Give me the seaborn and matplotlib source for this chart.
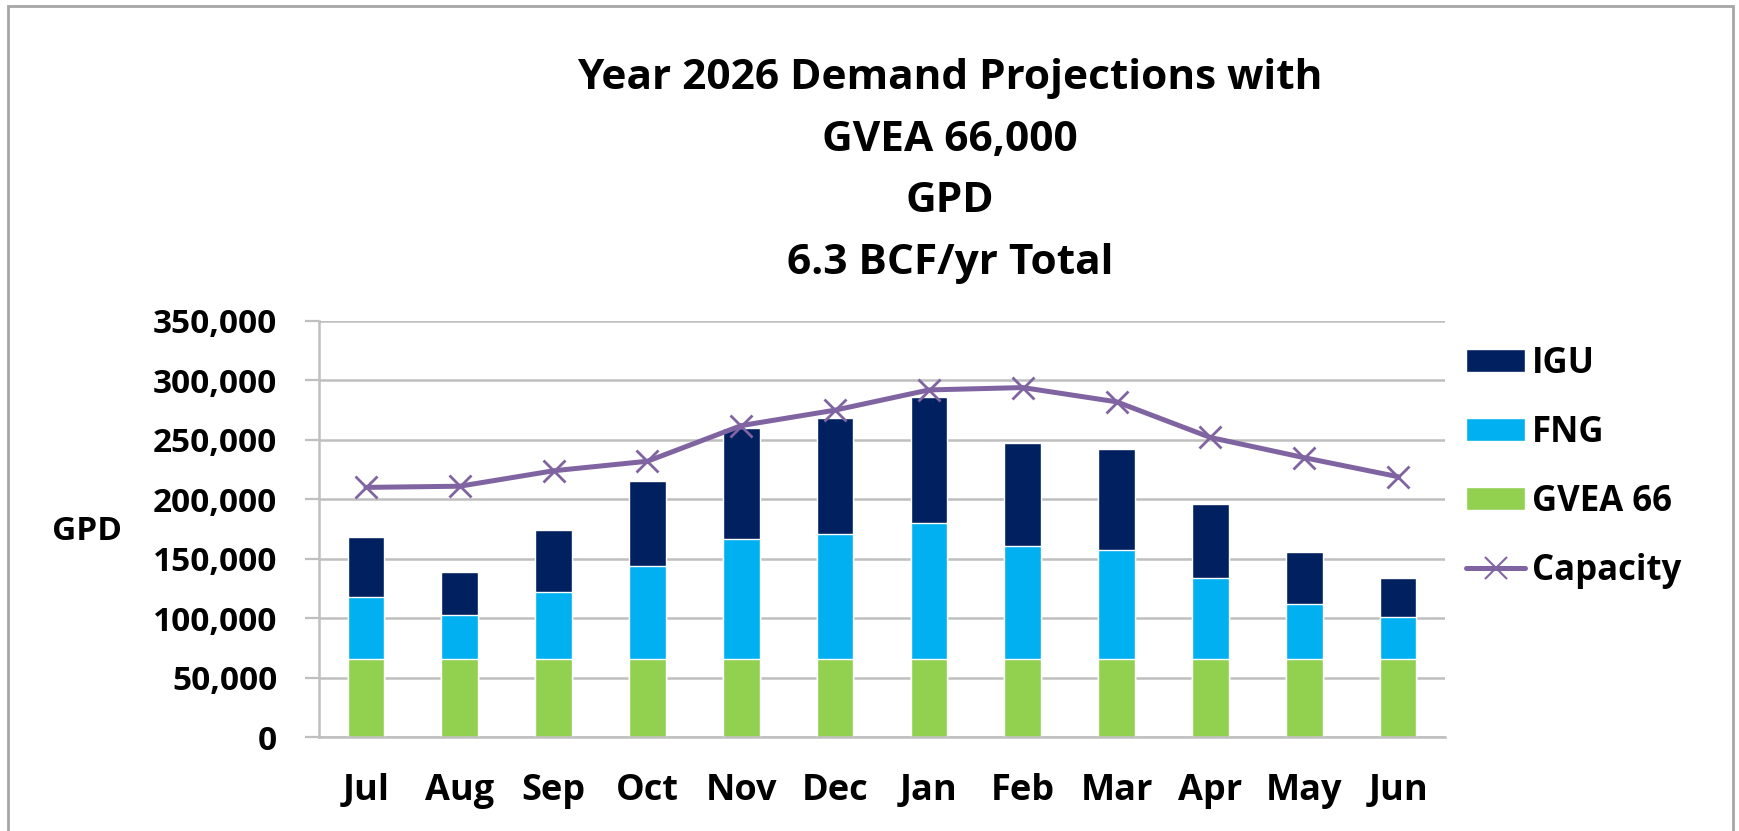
import matplotlib
matplotlib.use("Agg")
import matplotlib.pyplot as plt
import pandas as pd
import seaborn as sns
from matplotlib.lines import Line2D
from matplotlib.patches import Patch, Rectangle
from matplotlib.ticker import FuncFormatter, FixedLocator

months = ["Jul", "Aug", "Sep", "Oct", "Nov", "Dec", "Jan", "Feb", "Mar", "Apr", "May", "Jun"]
gvea_66 = [66000, 66000, 66000, 66000, 66000, 66000, 66000, 66000, 66000, 66000, 66000, 66000]
fng = [52000, 37000, 56000, 78000, 101000, 105000, 114000, 95000, 91000, 68000, 46000, 35000]
igu = [50000, 36000, 52000, 71000, 93000, 97000, 106000, 86000, 85000, 62000, 44000, 33000]
capacity = [210000, 211000, 224000, 232000, 262000, 275000, 292000, 294000, 282000, 252000, 235000, 219000]

title_lines = ["Year 2026 Demand Projections with", "GVEA 66,000", "GPD", "6.3 BCF/yr Total"]

C_IGU = "#002060"
C_FNG = "#00B0F0"
C_GVEA = "#92D050"
C_CAP = "#8064A2"
GRID = "#BFBFBF"

df = pd.DataFrame({"month": months, "gvea": gvea_66, "fng": fng, "igu": igu, "capacity": capacity})
df["fng_top"] = df["gvea"] + df["fng"]
df["igu_top"] = df["fng_top"] + df["igu"]

sns.set_theme(style="white")
plt.rcParams["font.family"] = ["Open Sans", "DejaVu Sans"]
plt.rcParams["font.weight"] = "bold"
plt.rcParams["text.color"] = "black"

fig = plt.figure(figsize=(17.4, 8.31), dpi=100)
ax = fig.add_axes([319 / 1740, 1 - 737 / 831, (1445 - 319) / 1740, 416 / 831])
ax.set_axisbelow(True)

# stacked bars drawn as overlapping cumulative totals
for col, color in [("igu_top", C_IGU), ("fng_top", C_FNG), ("gvea", C_GVEA)]:
    sns.barplot(data=df, x="month", y=col, color=color, saturation=1, width=0.39,
                errorbar=None, ax=ax, zorder=2)

sns.pointplot(data=df, x="month", y="capacity", color=C_CAP, markers="x", linestyles="-",
              errorbar=None, ax=ax, markersize=16, markeredgewidth=2, linewidth=3.6, zorder=5)

ax.set_xlim(-0.5, 11.5)
ax.set_ylim(0, 350000)
ax.set_xlabel("")
ax.set_ylabel("")
ax.yaxis.set_major_locator(FixedLocator(range(0, 350001, 50000)))
ax.yaxis.set_major_formatter(FuncFormatter(lambda v, _: f"{v:,.0f}"))
ax.yaxis.grid(True, color=GRID, linewidth=1.8)
ax.xaxis.grid(False)

ax.xaxis.set_minor_locator(FixedLocator([i - 0.5 for i in range(13)]))
ax.tick_params(axis="x", which="major", length=0, pad=26, labelsize=26, labelcolor="black")
ax.tick_params(axis="x", which="minor", length=9.5, width=1.6, color=GRID, direction="out")
ax.tick_params(axis="y", which="major", length=10, width=1.6, color=GRID, direction="out",
               pad=20, labelsize=24, left=True, labelcolor="black")

for side in ["top", "right"]:
    ax.spines[side].set_visible(False)
for side in ["left", "bottom"]:
    ax.spines[side].set_color(GRID)
    ax.spines[side].set_linewidth(1.8)

fig.text(87 / 1740, 1 - 532 / 831, "GPD", ha="center", va="center", fontsize=24,
         fontweight="bold", color="black")

fig.text(950 / 1740, 1 - 171 / 831, "\n".join(title_lines), ha="center", va="center",
         fontsize=30.5, fontweight="bold", linespacing=1.66, color="black")

handles = [
    Patch(facecolor=C_IGU, label="IGU"),
    Patch(facecolor=C_FNG, label="FNG"),
    Patch(facecolor=C_GVEA, label="GVEA 66"),
    Line2D([], [], color=C_CAP, marker="x", markersize=16, markeredgewidth=1.5,
           linewidth=3.6, label="Capacity"),
]
fig.legend(handles=handles, loc="upper left", bbox_to_anchor=(1466 / 1740, 1 - 346 / 831),
           frameon=False, fontsize=25, handlelength=1.7, handleheight=0.65,
           handletextpad=0.2, labelspacing=0.95, borderpad=0, borderaxespad=0,
           labelcolor="black")

fig.add_artist(Rectangle((8 / 1740, -0.05), (1733 - 8) / 1740, 1.05 - 6 / 831,
                         transform=fig.transFigure, fill=False, edgecolor="#A6A6A6", linewidth=2))

fig.savefig("out.png", dpi=100)
